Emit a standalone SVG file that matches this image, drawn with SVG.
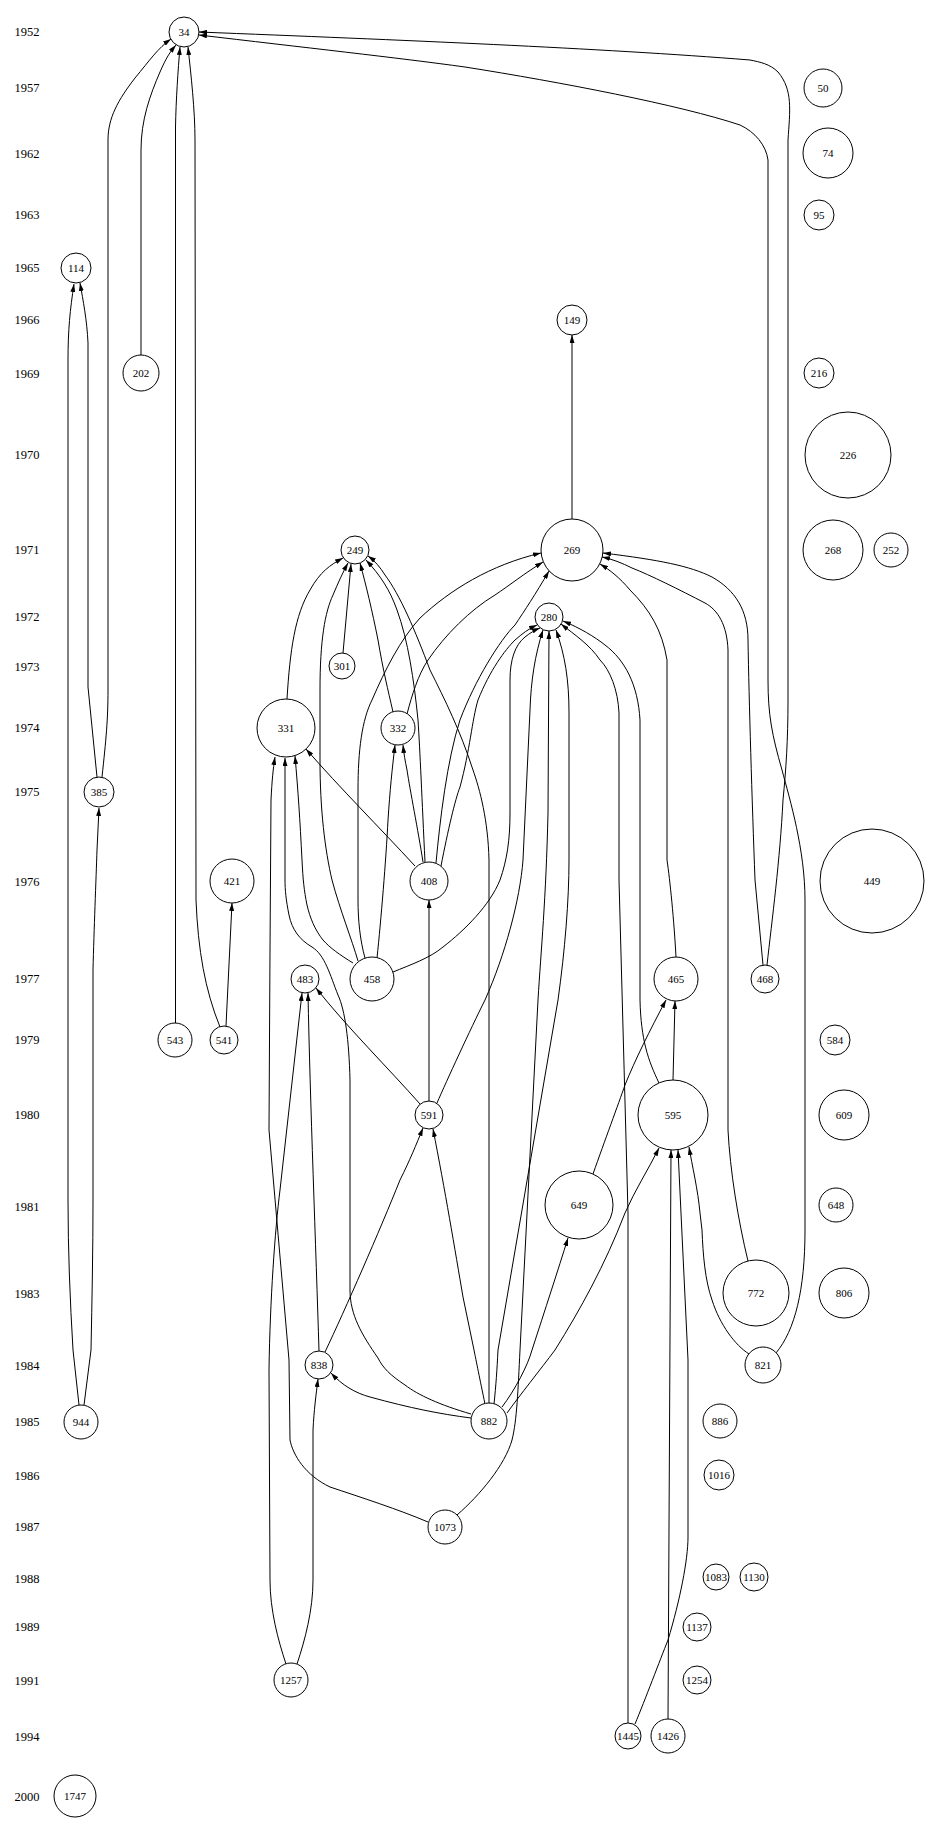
<svg xmlns="http://www.w3.org/2000/svg" width="931" height="1836" viewBox="0 0 931 1836">
<style>
.yr{font-family:"Liberation Serif","Times New Roman",serif;font-size:12.5px;text-anchor:middle;fill:#000}
.n circle{fill:#fff;stroke:#000;stroke-width:1}
.n text{font-family:"Liberation Serif","Times New Roman",serif;font-size:11px;text-anchor:middle;fill:#000}
#edges path{fill:none;stroke:#000;stroke-width:1;marker-end:url(#ah)}
</style>
<defs>
<marker id="ah" viewBox="0 0 8 5" refX="8" refY="2.5" markerWidth="8" markerHeight="5" markerUnits="userSpaceOnUse" orient="auto"><path d="M0,0 L8,2.5 L0,5 z" fill="#000"/></marker>
</defs>
<rect x="0" y="0" width="931" height="1836" fill="#fff"/>
<g id="years">
<text class="yr" x="27" y="36">1952</text>
<text class="yr" x="27" y="92">1957</text>
<text class="yr" x="27" y="158">1962</text>
<text class="yr" x="27" y="219">1963</text>
<text class="yr" x="27" y="272">1965</text>
<text class="yr" x="27" y="324">1966</text>
<text class="yr" x="27" y="378">1969</text>
<text class="yr" x="27" y="459">1970</text>
<text class="yr" x="27" y="554">1971</text>
<text class="yr" x="27" y="621">1972</text>
<text class="yr" x="27" y="671">1973</text>
<text class="yr" x="27" y="732">1974</text>
<text class="yr" x="27" y="796">1975</text>
<text class="yr" x="27" y="886">1976</text>
<text class="yr" x="27" y="983">1977</text>
<text class="yr" x="27" y="1044">1979</text>
<text class="yr" x="27" y="1119">1980</text>
<text class="yr" x="27" y="1211">1981</text>
<text class="yr" x="27" y="1298">1983</text>
<text class="yr" x="27" y="1370">1984</text>
<text class="yr" x="27" y="1426">1985</text>
<text class="yr" x="27" y="1480">1986</text>
<text class="yr" x="27" y="1531">1987</text>
<text class="yr" x="27" y="1583">1988</text>
<text class="yr" x="27" y="1631">1989</text>
<text class="yr" x="27" y="1685">1991</text>
<text class="yr" x="27" y="1741">1994</text>
<text class="yr" x="27" y="1801">2000</text>
</g>
<g id="edges">
<path d="M102,777 C106,740 108,720 108,690 L108,140 C108,118 118,100 135,78 C150,60 158,48 171,39"/>
<path d="M141,355 L141,150 C141,120 150,95 160,72 C166,58 170,52 176,45"/>
<path d="M175.5,1023 L175.5,127 C176,100 178,70 180,47"/>
<path d="M220,1027 C205,990 198,950 196,900 L195,140 C195,110 191,75 188,47"/>
<path d="M226,1026 L232,903"/>
<path d="M767,965 C772,920 780,860 783,800 C786,770 788,740 788,700 L788,140 C790,110 793,90 778,72 C770,64 760,62 750,60 C600,48 400,40 199,32"/>
<path d="M776,1353 C795,1330 805,1290 805,1230 L805,900 C805,850 790,800 782,770 C772,735 768,715 768,680 L768,160 C766,145 755,132 740,125 C680,105 560,82 465,67 C400,58 300,47 199,35"/>
<path d="M572,519 L572,335"/>
<path d="M287,699 C290,650 295,615 310,590 C320,572 330,565 343,558"/>
<path d="M358,961 C352,940 340,910 332,880 C325,850 320,810 320,760 L320,690 C320,640 325,612 333,595 C338,583 343,572 348,563"/>
<path d="M343,653 L351,564"/>
<path d="M393,712 C388,690 383,670 378,640 C372,610 366,585 360,563"/>
<path d="M425,862 C422,800 420,750 418,720 C414,680 408,640 397,610 C390,590 380,575 366,560"/>
<path d="M489,1403 L489,860 C488,820 480,790 473,770 C460,730 445,700 430,670 C415,630 400,595 385,575 C380,567 375,561 368,556"/>
<path d="M365,958 C360,940 358,920 358,900 L358,790 C358,750 362,720 372,700 C385,670 400,640 420,618 C450,590 490,565 541,553"/>
<path d="M407,714 C412,695 418,675 428,660 C445,635 470,610 495,595 C510,585 525,573 543,562"/>
<path d="M436,863 C440,820 447,760 460,720 C475,680 500,640 515,625 C525,610 535,595 549,571"/>
<path d="M441,866 C448,830 455,800 460,787 C470,750 472,720 478,700 C490,670 505,650 515,640 C522,634 528,629 537,625"/>
<path d="M393,972 C410,965 430,958 443,947 C465,930 490,905 500,880 C507,860 510,840 510,813 L510,680 C510,660 515,645 525,637 C530,633 535,630 540,628"/>
<path d="M437,1103 C447,1080 470,1030 485,1000 C505,955 520,900 523,860 L530,710 C531,680 535,655 543,630"/>
<path d="M457,1515 C480,1495 505,1465 512,1440 C517,1420 518,1390 520,1350 L538,1000 C541,950 546,900 548,813 L549,631"/>
<path d="M494,1404 C496,1385 497,1370 498,1350 L558,1000 C565,950 569,900 569,860 L569,713 C569,680 565,655 556,630"/>
<path d="M628,1723 L628,1213 L619,880 L619,713 C618,690 610,670 600,660 C590,645 575,635 561,624"/>
<path d="M659,1083 C648,1060 641,1040 640,1000 L640,720 C638,685 625,660 605,645 C595,637 580,628 563,621"/>
<path d="M676,957 C674,920 670,880 667,860 L667,660 C662,630 650,610 630,590 C620,578 610,570 600,564"/>
<path d="M748,1261 C738,1220 730,1170 728,1130 L728,650 C727,625 718,610 705,603 C680,590 650,575 632,568 C622,563 612,559 602,557"/>
<path d="M763,965 L755,880 C752,800 749,700 748,640 C748,610 735,590 712,577 C690,566 660,560 603,553"/>
<path d="M428,1522 C400,1510 360,1497 330,1487 C305,1475 293,1455 290,1440 L289,1360 L269,1130 L270,950 L271,800 C272,780 273,770 275,757"/>
<path d="M471,1414 C440,1405 418,1395 405,1385 C390,1375 383,1368 378,1358 C362,1335 350,1315 350,1290 L350,1080 C349,1040 345,1010 338,995 C330,975 325,955 312,947 C300,940 292,930 289,915 C286,900 285,890 285,880 L285,758"/>
<path d="M353,963 C340,955 330,948 323,940 C315,930 310,918 307,905 C304,890 303,880 302,860 C300,820 298,790 295,756"/>
<path d="M415,866 C380,828 340,788 306,749"/>
<path d="M377,958 C381,920 386,860 388,820 C390,790 392,770 395,745"/>
<path d="M423,862 C418,830 410,790 407,770 C405,760 404,755 403,745"/>
<path d="M429,1101 L429,900"/>
<path d="M286,1664 C278,1640 270,1610 270,1580 L269,1370 C270,1300 275,1230 280,1190 L302,993"/>
<path d="M319,1351 C316,1250 310,1100 308,993"/>
<path d="M420,1104 C390,1070 345,1025 316,988"/>
<path d="M297,1664 C305,1640 313,1610 313,1580 L313,1430 C314,1410 316,1395 318,1379"/>
<path d="M471,1418 C440,1414 410,1408 370,1397 C355,1393 342,1385 331,1373"/>
<path d="M325,1352 C345,1310 380,1230 400,1180 C410,1160 416,1145 423,1128"/>
<path d="M485,1404 C480,1380 476,1360 474,1350 L463,1297 C455,1250 445,1190 433,1129"/>
<path d="M593,1174 C605,1140 618,1105 625,1085 C635,1060 650,1030 666,1000"/>
<path d="M673,1080 L675,1001"/>
<path d="M502,1407 C515,1390 528,1365 532,1350 C545,1310 558,1270 568,1238"/>
<path d="M507,1413 C520,1395 540,1370 555,1350 C580,1310 605,1265 625,1213 C635,1190 648,1170 659,1148"/>
<path d="M668,1719 L671,1150"/>
<path d="M635,1724 C645,1700 660,1660 668,1640 C680,1600 688,1560 688,1537 L688,1360 L678,1150"/>
<path d="M749,1354 C735,1345 720,1325 712,1300 C705,1280 703,1255 702,1230 L700,1213 C698,1190 692,1165 689,1147"/>
<path d="M79,1405 L73,1350 C70,1300 68,1250 68,1200 L68,360 C68,330 70,310 74,284"/>
<path d="M97,777 L88,687 L88,343 C87,320 83,300 80,283"/>
<path d="M84,1405 L91,1350 C92,1300 93,1250 93,1200 L93,970 C94,930 96,880 97,850 L99,808"/>
</g>
<g id="n34" class="n"><circle cx="184" cy="32" r="15"/><text x="184" y="36">34</text></g>
<g id="n50" class="n"><circle cx="823" cy="88" r="19"/><text x="823" y="92">50</text></g>
<g id="n74" class="n"><circle cx="828" cy="153" r="25"/><text x="828" y="157">74</text></g>
<g id="n95" class="n"><circle cx="819" cy="215" r="15"/><text x="819" y="219">95</text></g>
<g id="n114" class="n"><circle cx="76" cy="268" r="15"/><text x="76" y="272">114</text></g>
<g id="n149" class="n"><circle cx="572" cy="320" r="15"/><text x="572" y="324">149</text></g>
<g id="n202" class="n"><circle cx="141" cy="373" r="18"/><text x="141" y="377">202</text></g>
<g id="n216" class="n"><circle cx="819" cy="373" r="15"/><text x="819" y="377">216</text></g>
<g id="n226" class="n"><circle cx="848" cy="455" r="43"/><text x="848" y="459">226</text></g>
<g id="n249" class="n"><circle cx="355" cy="550" r="14"/><text x="355" y="554">249</text></g>
<g id="n269" class="n"><circle cx="572" cy="550" r="31"/><text x="572" y="554">269</text></g>
<g id="n268" class="n"><circle cx="833" cy="550" r="30"/><text x="833" y="554">268</text></g>
<g id="n252" class="n"><circle cx="891" cy="550" r="17"/><text x="891" y="554">252</text></g>
<g id="n280" class="n"><circle cx="549" cy="617" r="14"/><text x="549" y="621">280</text></g>
<g id="n301" class="n"><circle cx="342" cy="666" r="13"/><text x="342" y="670">301</text></g>
<g id="n331" class="n"><circle cx="286" cy="728" r="29"/><text x="286" y="732">331</text></g>
<g id="n332" class="n"><circle cx="398" cy="728" r="17"/><text x="398" y="732">332</text></g>
<g id="n385" class="n"><circle cx="99" cy="792" r="15"/><text x="99" y="796">385</text></g>
<g id="n421" class="n"><circle cx="232" cy="881" r="22"/><text x="232" y="885">421</text></g>
<g id="n408" class="n"><circle cx="429" cy="881" r="19"/><text x="429" y="885">408</text></g>
<g id="n449" class="n"><circle cx="872" cy="881" r="52"/><text x="872" y="885">449</text></g>
<g id="n483" class="n"><circle cx="305" cy="979" r="14"/><text x="305" y="983">483</text></g>
<g id="n458" class="n"><circle cx="372" cy="979" r="22"/><text x="372" y="983">458</text></g>
<g id="n465" class="n"><circle cx="676" cy="979" r="22"/><text x="676" y="983">465</text></g>
<g id="n468" class="n"><circle cx="765" cy="979" r="14"/><text x="765" y="983">468</text></g>
<g id="n543" class="n"><circle cx="175" cy="1040" r="17"/><text x="175" y="1044">543</text></g>
<g id="n541" class="n"><circle cx="224" cy="1040" r="14"/><text x="224" y="1044">541</text></g>
<g id="n584" class="n"><circle cx="835" cy="1040" r="15"/><text x="835" y="1044">584</text></g>
<g id="n591" class="n"><circle cx="429" cy="1115" r="14"/><text x="429" y="1119">591</text></g>
<g id="n595" class="n"><circle cx="673" cy="1115" r="35"/><text x="673" y="1119">595</text></g>
<g id="n609" class="n"><circle cx="844" cy="1115" r="25"/><text x="844" y="1119">609</text></g>
<g id="n649" class="n"><circle cx="579" cy="1205" r="34"/><text x="579" y="1209">649</text></g>
<g id="n648" class="n"><circle cx="836" cy="1205" r="17"/><text x="836" y="1209">648</text></g>
<g id="n772" class="n"><circle cx="756" cy="1293" r="33"/><text x="756" y="1297">772</text></g>
<g id="n806" class="n"><circle cx="844" cy="1293" r="25"/><text x="844" y="1297">806</text></g>
<g id="n838" class="n"><circle cx="319" cy="1365" r="14"/><text x="319" y="1369">838</text></g>
<g id="n821" class="n"><circle cx="763" cy="1365" r="18"/><text x="763" y="1369">821</text></g>
<g id="n944" class="n"><circle cx="81" cy="1422" r="17"/><text x="81" y="1426">944</text></g>
<g id="n882" class="n"><circle cx="489" cy="1421" r="18"/><text x="489" y="1425">882</text></g>
<g id="n886" class="n"><circle cx="720" cy="1421" r="17"/><text x="720" y="1425">886</text></g>
<g id="n1016" class="n"><circle cx="719" cy="1475" r="15"/><text x="719" y="1479">1016</text></g>
<g id="n1073" class="n"><circle cx="445" cy="1527" r="17"/><text x="445" y="1531">1073</text></g>
<g id="n1083" class="n"><circle cx="716" cy="1577" r="13"/><text x="716" y="1581">1083</text></g>
<g id="n1130" class="n"><circle cx="754" cy="1577" r="14"/><text x="754" y="1581">1130</text></g>
<g id="n1137" class="n"><circle cx="697" cy="1627" r="14"/><text x="697" y="1631">1137</text></g>
<g id="n1257" class="n"><circle cx="291" cy="1680" r="17"/><text x="291" y="1684">1257</text></g>
<g id="n1254" class="n"><circle cx="697" cy="1680" r="14"/><text x="697" y="1684">1254</text></g>
<g id="n1445" class="n"><circle cx="628" cy="1736" r="13"/><text x="628" y="1740">1445</text></g>
<g id="n1426" class="n"><circle cx="668" cy="1736" r="17"/><text x="668" y="1740">1426</text></g>
<g id="n1747" class="n"><circle cx="75" cy="1796" r="21"/><text x="75" y="1800">1747</text></g>
</svg>
